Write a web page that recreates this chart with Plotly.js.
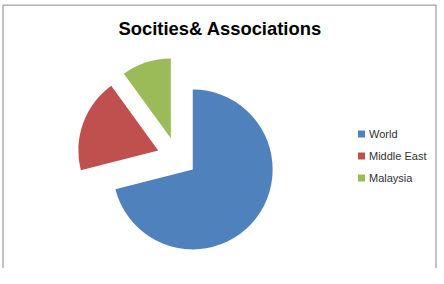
<!DOCTYPE html>
<html><head><meta charset="utf-8">
<script src="https://cdn.plot.ly/plotly-3.0.1.min.js"></script>
<style>html,body{margin:0;padding:0;background:#fff}#c{width:444px;height:284px}</style>
</head><body><div id="c"></div>
<script>
const labels = ["World", "Middle East", "Malaysia"];
const values = [71, 19, 10];
const colors = ["#4F81BD", "#C0504D", "#9BBB59"];
const pulls = [0.25, 0.25, 0.25];

const W = 444, H = 284;
const trace = {
  type: "pie",
  labels: labels,
  values: values,
  sort: false,
  direction: "clockwise",
  rotation: 0,
  pull: pulls,
  textinfo: "none",
  hoverinfo: "label+value",
  marker: {colors: colors, line: {width: 0}},
  showlegend: false,
  domain: {x: [0.1737, 0.6235], y: [0.0925, 0.8]}
};

// custom legend built from labels/colors
const shapes = [
  {type: "line", xref: "paper", yref: "paper", x0: 0.0068, x1: 0.0068, y0: 0.056, y1: 0.982, line: {color: "#888", width: 1}},
  {type: "line", xref: "paper", yref: "paper", x0: 0.0068, x1: 0.982, y0: 0.982, y1: 0.982, line: {color: "#888", width: 1}},
  {type: "line", xref: "paper", yref: "paper", x0: 0.982, x1: 0.982, y0: 0.056, y1: 0.982, line: {color: "#888", width: 1}}
];
const annotations = [];
labels.forEach((lab, i) => {
  const yc = 134 + 22 * i;
  shapes.push({type: "rect", xref: "paper", yref: "paper",
    x0: 358 / W, x1: 365 / W, y0: 1 - (yc + 3.5) / H, y1: 1 - (yc - 3.5) / H,
    fillcolor: colors[i], line: {width: 0}});
  annotations.push({xref: "paper", yref: "paper", x: 367 / W, y: 1 - yc / H,
    xanchor: "left", yanchor: "middle", showarrow: false, text: lab,
    font: {family: "Liberation Sans, Arial, sans-serif", size: 11, color: "#333"}});
});

const layout = {
  width: W, height: H,
  margin: {l: 0, r: 0, t: 0, b: 0},
  paper_bgcolor: "#fff",
  title: {text: "<b>Socities& Associations</b>", x: 0.495, xanchor: "center", y: 0.9, yanchor: "middle",
          font: {family: "Liberation Sans, Arial, sans-serif", size: 18.4, color: "#000"}},
  showlegend: false,
  shapes: shapes,
  annotations: annotations
};

Plotly.newPlot("c", [trace], layout, {displayModeBar: false, staticPlot: true});
</script></body></html>
